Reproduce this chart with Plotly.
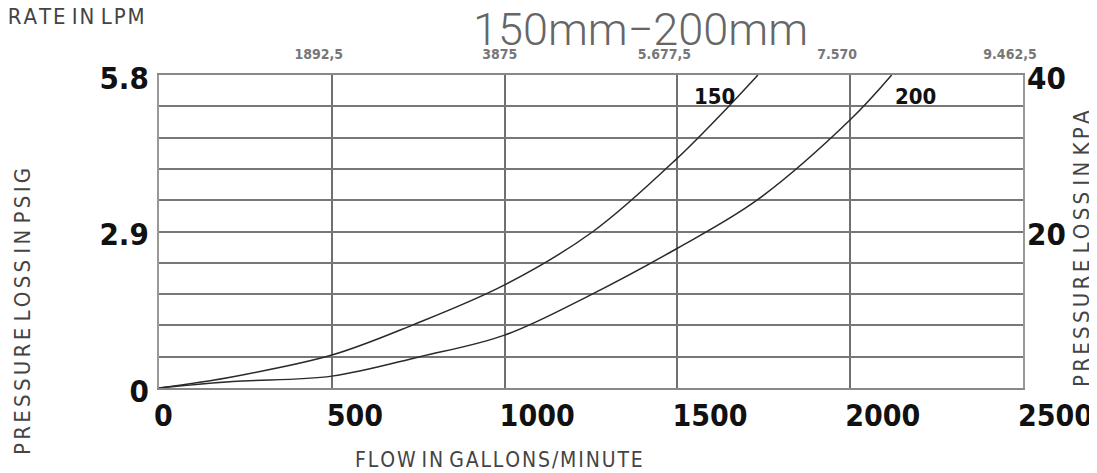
import plotly.graph_objects as go

# ---- data ----
gpm_150 = [0, 214, 500, 735, 1000, 1256, 1500, 1644, 1733]
psi_150 = [0, 0.21, 0.61, 1.17, 1.91, 2.90, 4.26, 5.19, 5.80]
gpm_200 = [0, 214, 500, 755, 1000, 1238, 1500, 1730, 2000, 2120]
psi_200 = [0, 0.12, 0.22, 0.58, 0.98, 1.69, 2.59, 3.48, 4.97, 5.80]

x_ticks = [0, 500, 1000, 1500, 2000, 2500]
y_grid = [round(i * 0.58, 2) for i in range(11)]
y_labels = {0: "0", 5: "2.9", 10: "5.8"}
kpa_ticks = [20, 40]
lpm_ticks = [1892.5, 3875, 5677.5, 7570, 9462.5]
lpm_text = ["1892,5", "3875", "5.677,5", "7.570", "9.462,5"]

title_text = "150mm\u2212200mm"
series_names = ["150", "200"]


def spaced(s, sep="\u200a"):
    return sep.join(list(s)).replace(sep + " " + sep, " ")


COND = "DejaVu Sans Condensed, DejaVu Sans, sans-serif"
BOLD = dict(family=COND, size=31, color="#111", weight="bold")
TITLEF = dict(family=COND, size=22, color="#444")

fig = go.Figure()
for gx, py, nm in [(gpm_150, psi_150, series_names[0]), (gpm_200, psi_200, series_names[1])]:
    fig.add_trace(go.Scatter(x=gx, y=py, mode="lines",
                             line=dict(color="#2a2a2a", width=1.5, shape="spline", smoothing=1.0),
                             showlegend=False, hoverinfo="skip", name=nm))
# secondary axes carrier (invisible)
fig.add_trace(go.Scatter(x=[0, lpm_ticks[-1]], y=[0, 40], xaxis="x2", yaxis="y2", mode="markers",
                         marker=dict(opacity=0), showlegend=False, hoverinfo="skip"))

fig.update_layout(
    width=1089, height=465,
    margin=dict(l=151, r=74, t=67, b=85),
    paper_bgcolor="white", plot_bgcolor="white",
    xaxis=dict(range=[0, 2500], tickvals=x_ticks, ticktext=[str(v) for v in x_ticks],
               showgrid=True, gridcolor="#707070", gridwidth=2, zeroline=False,
               showline=True, linecolor="#888", linewidth=2, mirror=True, automargin=False,
               tickfont=dict(BOLD, size=30), ticks="", ticklabelposition="outside right", ticklabelshift=-6,
               ticklabelstandoff=0, ticklabeloverflow="allow"),
    yaxis=dict(range=[0, 5.8], tickvals=y_grid, ticktext=[y_labels.get(i, "") for i in range(11)],
               showgrid=True, gridcolor="#777", gridwidth=2, zeroline=False,
               showline=True, linecolor="#999", linewidth=2, mirror=True, automargin=False,
               tickfont=BOLD, ticks="", ticklabelstandoff=2, ticklabelshift=3),
    xaxis2=dict(range=[0, lpm_ticks[-1]], overlaying="x", side="top", tickvals=lpm_ticks, ticktext=lpm_text,
                showgrid=False, zeroline=False, showline=False, ticks="", automargin=False,
                tickfont=dict(family=COND, size=14, color="#777", weight="bold"),
                ticklabelshift=-13, ticklabelstandoff=12, ticklabeloverflow="allow"),
    yaxis2=dict(range=[0, 40], overlaying="y", side="right", tickvals=kpa_ticks, ticktext=[str(v) for v in kpa_ticks],
                showgrid=False, zeroline=False, showline=False, ticks="", automargin=False,
                tickfont=BOLD, ticklabelstandoff=3, ticklabelshift=3, ticklabeloverflow="allow"),
    annotations=[
        dict(text=title_text, xref="paper", yref="paper", x=0.557, y=1.0, yshift=45.5, xanchor="center", yanchor="middle",
             showarrow=False, font=dict(family="Roboto, Liberation Sans, sans-serif", size=45, color="#666", weight=300)),
        dict(text=spaced("FLOW RATE IN LPM"), xref="paper", yref="paper", x=0, xshift=-12, y=1.0, yshift=59,
             xanchor="right", yanchor="middle", showarrow=False, font=TITLEF),
        dict(text=spaced("FLOW IN GALLONS/MINUTE"), xref="paper", yref="paper", x=0.393, y=0, yshift=-72,
             xanchor="center", yanchor="middle", showarrow=False, font=dict(TITLEF, size=21)),
        dict(text=spaced("PRESSURE LOSS IN PSIG", "\u2006"), xref="paper", yref="paper", x=0, xshift=-137, y=0.5,
             yshift=-80.5, textangle=-90, xanchor="center", yanchor="middle", showarrow=False, font=TITLEF),
        dict(text=spaced("PRESSURE LOSS IN KPA", "\u2006"), xref="paper", yref="paper", x=1, xshift=58, y=0.5,
             yshift=-17.5, textangle=-90, xanchor="center", yanchor="middle", showarrow=False, font=TITLEF),
        dict(text=series_names[0], x=1608, y=5.41, xref="x", yref="y", showarrow=False,
             font=dict(family=COND, size=22, color="#111", weight="bold")),
        dict(text=series_names[1], x=2188, y=5.41, xref="x", yref="y", showarrow=False,
             font=dict(family=COND, size=22, color="#111", weight="bold")),
    ],
)

fig.write_html("out.html")
